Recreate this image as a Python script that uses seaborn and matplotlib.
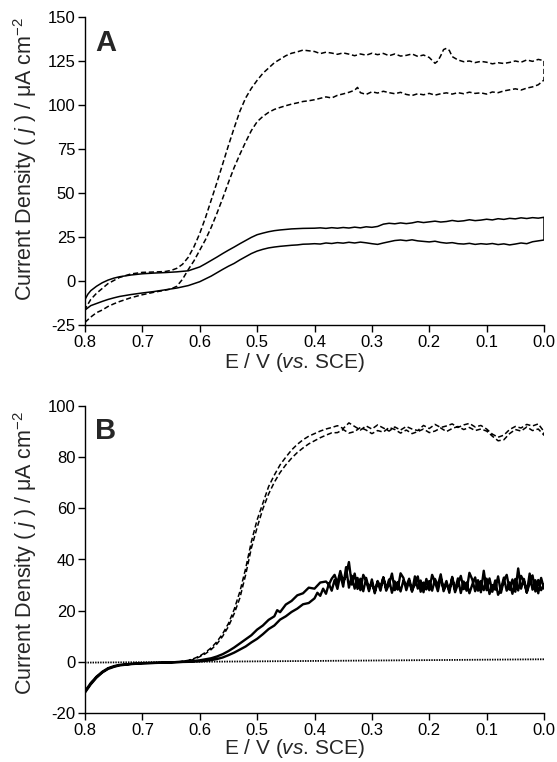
import numpy as np
import pandas as pd
import matplotlib
matplotlib.use("Agg")
import matplotlib.pyplot as plt
import seaborn as sns

# ---------------- Panel A data ----------------
# solid CV: lower branch 0.8 -> 0.0, then upper branch 0.0 -> 0.8
A_solid_low_E = [0.80, 0.79, 0.78, 0.77, 0.76, 0.75, 0.74, 0.72, 0.70, 0.68, 0.66, 0.64, 0.62, 0.60,
                 0.58, 0.56, 0.55, 0.54, 0.53, 0.52, 0.51, 0.50, 0.49, 0.48, 0.47, 0.46, 0.45, 0.44,
                 0.43, 0.42, 0.41,
                 0.40, 0.39, 0.38, 0.37, 0.36, 0.35, 0.34, 0.33, 0.32, 0.31, 0.30, 0.29, 0.28, 0.27,
                 0.26, 0.25, 0.24, 0.23, 0.22, 0.21, 0.20, 0.19, 0.18, 0.17, 0.16, 0.15, 0.14, 0.13,
                 0.12, 0.11, 0.10, 0.09, 0.08, 0.07, 0.06, 0.05, 0.04, 0.03, 0.02, 0.01, 0.00]
A_solid_low_j = [-16.5, -14.0, -12.8, -11.6, -10.5, -9.6, -8.8, -7.7, -6.8, -6.0, -5.0, -4.0, -2.6, -0.4,
                 2.8, 6.6, 8.4, 10.0, 12.0, 13.8, 15.6, 17.0, 18.0, 18.8, 19.3, 19.7, 20.0, 20.3,
                 20.5, 20.9, 21.0,
                 21.2, 21.0, 21.6, 21.3, 21.8, 21.5, 22.0, 21.6, 22.1, 21.7, 21.2, 20.8, 21.6, 22.3,
                 23.0, 23.3, 22.9, 23.4, 22.8, 22.5, 22.2, 22.6, 21.9, 21.5, 21.8, 21.2, 21.0, 21.4,
                 20.8, 21.2, 20.9, 21.3, 20.7, 21.1, 20.5, 21.0, 21.6, 21.2, 22.3, 22.8, 23.3]
A_solid_up_E = [0.00, 0.01, 0.02, 0.03, 0.04, 0.05, 0.06, 0.07, 0.08, 0.09, 0.10, 0.11, 0.12, 0.13,
                0.14, 0.15, 0.16, 0.17, 0.18, 0.19, 0.20, 0.21, 0.22, 0.23, 0.24, 0.25, 0.26, 0.27,
                0.28, 0.29, 0.30, 0.31, 0.32, 0.33, 0.34, 0.35, 0.36, 0.37, 0.38, 0.39, 0.40,
                0.42, 0.44, 0.45, 0.46, 0.47, 0.48, 0.49, 0.50, 0.51, 0.52, 0.53, 0.54, 0.55, 0.56,
                0.57, 0.58, 0.59, 0.60, 0.62, 0.64, 0.66, 0.68, 0.70, 0.72, 0.74, 0.75, 0.76, 0.77,
                0.78, 0.79, 0.795, 0.80]
A_solid_up_j = [36.2, 35.7, 36.0, 35.5, 35.9, 35.3, 35.6, 35.0, 35.4, 34.7, 35.1, 34.6, 34.3, 34.8,
                34.2, 33.9, 34.4, 33.8, 33.5, 34.0, 33.6, 33.2, 33.7, 33.0, 32.6, 33.0, 32.5, 32.8,
                32.3, 31.0, 30.5, 30.8, 30.2, 30.6, 30.1, 30.4, 30.0, 30.3, 29.9, 30.2, 30.0,
                29.9, 29.6, 29.3, 29.0, 28.6, 28.0, 27.2, 26.3, 24.8, 23.0, 21.2, 19.3, 17.5, 15.6,
                13.6, 11.7, 9.8, 8.0, 5.8, 5.2, 4.8, 4.5, 4.1, 3.4, 2.4, 1.6, 0.5, -1.0,
                -3.0, -5.5, -7.5, -10.5]

# dashed CV: lower branch 0.8 -> 0.0, then upper branch 0.0 -> 0.8
A_dash_low_E = [0.80, 0.79, 0.78, 0.77, 0.76, 0.75, 0.74, 0.72, 0.70, 0.68, 0.66, 0.65, 0.64, 0.63,
                0.62, 0.61, 0.60, 0.59, 0.58, 0.57, 0.56, 0.55, 0.54, 0.53, 0.52, 0.51, 0.50, 0.49,
                0.48, 0.47, 0.46, 0.45,
                0.44, 0.43, 0.42, 0.41, 0.40, 0.39, 0.38, 0.37, 0.36, 0.35, 0.34, 0.33, 0.325, 0.32,
                0.31, 0.30, 0.29, 0.28, 0.27, 0.26, 0.25, 0.24, 0.23, 0.22, 0.21, 0.20, 0.19, 0.18,
                0.17, 0.16, 0.15, 0.14, 0.13, 0.12, 0.11, 0.10, 0.09, 0.08, 0.07, 0.06, 0.05, 0.04,
                0.03, 0.02, 0.01, 0.00]
A_dash_low_j = [-23.5, -20.5, -18.0, -16.5, -14.5, -13.0, -11.7, -9.5, -7.8, -6.4, -5.2, -4.5, -3.0, 1.0,
                6.5, 11.5, 17.5, 23.5, 30.5, 38.5, 47.0, 56.0, 64.5, 72.0, 79.0, 85.5, 90.5, 93.5,
                95.8, 97.5, 98.6, 99.6,
                100.5, 101.2, 102.0, 102.4, 103.0, 103.8, 104.6, 104.0, 105.5, 106.3, 107.2, 108.4, 110.0, 107.0,
                106.0, 107.5, 106.8, 107.8, 107.0, 106.4, 107.2, 106.0, 105.4, 106.4, 105.8, 106.6, 105.6, 106.4,
                106.9, 106.2, 107.0, 106.4, 107.3, 106.6, 106.9, 106.2, 107.4, 107.0, 108.0, 108.6, 109.2, 108.5,
                109.6, 110.3, 111.5, 114.2]
A_dash_up_E = [0.00, 0.01, 0.02, 0.03, 0.04, 0.05, 0.06, 0.07, 0.08, 0.09, 0.10, 0.11, 0.12, 0.13,
               0.14, 0.15, 0.16, 0.165, 0.17, 0.175, 0.18, 0.185, 0.19, 0.20, 0.21, 0.22, 0.23, 0.24,
               0.25, 0.26, 0.27, 0.28, 0.29, 0.30, 0.31, 0.32, 0.33, 0.34, 0.35, 0.36, 0.37, 0.38,
               0.39, 0.40, 0.41, 0.42, 0.43, 0.44, 0.45, 0.46, 0.47, 0.48, 0.49, 0.50, 0.51, 0.52,
               0.53, 0.54, 0.55, 0.56, 0.57, 0.58, 0.59, 0.60, 0.61, 0.62, 0.63, 0.64, 0.65, 0.66,
               0.68, 0.70, 0.72, 0.74, 0.76, 0.78, 0.79, 0.80]
A_dash_up_j = [125.2, 125.9, 124.8, 125.6, 124.3, 125.0, 124.2, 123.6, 124.0, 123.4, 124.3, 124.8, 124.1, 125.0,
               124.6, 125.6, 127.5, 131.0, 132.2, 131.5, 128.0, 125.0, 123.7, 127.0, 128.4, 127.6, 129.0, 128.2,
               127.8, 129.0, 128.0, 129.3, 128.6, 129.4, 128.3, 129.0, 128.0, 128.9, 129.6, 128.8, 129.5, 130.0,
               129.2, 130.4, 130.8, 131.2, 130.2, 129.4, 128.0, 126.0, 124.0, 121.0, 118.0, 114.0, 109.5, 104.0,
               96.5, 87.0, 77.0, 66.5, 56.0, 46.0, 36.0, 27.0, 19.5, 13.5, 9.5, 7.2, 6.0, 5.4,
               5.1, 4.9, 4.0, 2.0, -1.5, -7.0, -10.5, -16.0]

# ---------------- Panel B data ----------------
B_dash1_E = [0.80, 0.79, 0.78, 0.77, 0.76, 0.75, 0.74, 0.72, 0.70, 0.66, 0.64, 0.63, 0.62, 0.61,
             0.60, 0.59, 0.58, 0.57, 0.56, 0.55, 0.54, 0.53, 0.52, 0.51, 0.50, 0.49, 0.48, 0.47,
             0.46, 0.45, 0.44, 0.43, 0.42, 0.41, 0.40, 0.39, 0.38, 0.37,
             0.36, 0.35, 0.34, 0.33, 0.32, 0.31, 0.30, 0.29, 0.28, 0.27, 0.26, 0.25, 0.24, 0.23,
             0.22, 0.21, 0.20, 0.19, 0.18, 0.17, 0.16, 0.15, 0.14, 0.13, 0.12, 0.11, 0.10, 0.09,
             0.08, 0.07, 0.06, 0.05, 0.04, 0.03, 0.02, 0.01, 0.00]
B_dash1_j = [-11.5, -8.3, -5.8, -3.9, -2.5, -1.7, -1.2, -0.8, -0.5, -0.3, -0.1, 0.2, 0.6, 1.3,
             2.3, 3.7, 5.5, 7.9, 11.0, 15.0, 20.5, 27.5, 36.5, 47.0, 55.5, 62.0, 68.5, 73.0,
             77.0, 80.0, 82.8, 85.0, 86.8, 88.2, 89.2, 90.2, 91.0, 91.6,
             92.3, 91.2, 93.4, 92.0, 90.6, 92.2, 91.0, 92.6, 91.4, 90.2, 91.8, 90.6, 92.0, 91.0,
             90.4, 92.4, 91.2, 92.8, 91.6, 92.2, 93.0, 91.6, 92.6, 93.2, 91.8, 92.4, 91.0, 89.0,
             87.8, 88.6, 90.8, 92.0, 91.4, 92.8, 92.2, 93.0, 90.0]
B_dash2_E = [0.00, 0.01, 0.02, 0.03, 0.04, 0.05, 0.06, 0.07, 0.08, 0.09, 0.10, 0.11, 0.12, 0.13,
             0.14, 0.15, 0.16, 0.17, 0.18, 0.19, 0.20, 0.21, 0.22, 0.23, 0.24, 0.25, 0.26, 0.27,
             0.28, 0.29, 0.30, 0.31, 0.32, 0.33, 0.34, 0.35, 0.36, 0.37, 0.38, 0.39, 0.40, 0.41,
             0.42, 0.43, 0.44, 0.45, 0.46, 0.47, 0.48, 0.49, 0.50, 0.51, 0.52, 0.53, 0.54, 0.55,
             0.56, 0.57, 0.58, 0.59, 0.60, 0.61, 0.62, 0.64, 0.66, 0.70, 0.72, 0.74, 0.75, 0.76,
             0.77, 0.78, 0.79, 0.80]
B_dash2_j = [88.6, 91.0, 90.4, 91.8, 90.2, 90.8, 89.2, 86.8, 86.4, 88.2, 90.2, 91.0, 90.4, 91.6,
             90.8, 92.0, 91.2, 90.0, 91.4, 90.2, 89.6, 91.0, 90.0, 89.2, 90.6, 89.4, 90.8, 91.6,
             89.8, 90.4, 89.2, 90.6, 91.6, 90.0, 89.4, 90.8, 89.6, 89.5, 88.6, 87.6, 86.4, 85.2,
             83.6, 81.8, 79.6, 77.0, 74.0, 70.2, 65.6, 59.8, 52.5, 44.5, 34.0, 25.0, 18.8, 13.8,
             10.0, 7.0, 4.8, 3.2, 2.0, 1.0, 0.4, -0.1, -0.3, -0.6, -0.9, -1.4, -2.0, -2.8,
             -4.2, -6.2, -8.8, -12.0]

B_solid1_E = [0.80, 0.79, 0.78, 0.77, 0.76, 0.75, 0.74, 0.72, 0.70, 0.66, 0.64, 0.62, 0.60, 0.58,
              0.57, 0.56, 0.55, 0.54, 0.53, 0.52, 0.51, 0.50, 0.49, 0.48, 0.47, 0.465, 0.46, 0.45,
              0.44, 0.43, 0.42, 0.41, 0.40, 0.39, 0.38, 0.375,
              0.370, 0.365, 0.360, 0.355, 0.350, 0.345, 0.340, 0.335, 0.330, 0.325, 0.320, 0.315,
              0.310, 0.305, 0.300, 0.295, 0.290, 0.285, 0.280, 0.275, 0.270, 0.265, 0.260, 0.255,
              0.250, 0.245, 0.240, 0.235, 0.230, 0.225, 0.220, 0.215, 0.210, 0.205, 0.200, 0.195,
              0.190, 0.185, 0.180, 0.175, 0.170, 0.165, 0.160, 0.155, 0.150, 0.145, 0.140, 0.135,
              0.130, 0.125, 0.120, 0.115, 0.110, 0.105, 0.100, 0.095, 0.090, 0.085, 0.080, 0.075,
              0.070, 0.065, 0.060, 0.055, 0.050, 0.045, 0.040, 0.035, 0.030, 0.025, 0.020, 0.015,
              0.010, 0.005, 0.000]
B_solid1_j = [-11.5, -8.3, -5.8, -3.9, -2.5, -1.7, -1.2, -0.8, -0.5, -0.3, -0.1, 0.1, 0.6, 1.4,
              2.1, 3.0, 4.2, 5.6, 7.2, 8.8, 10.4, 12.6, 14.2, 16.4, 17.8, 20.2, 19.4, 22.4,
              23.8, 26.0, 26.8, 29.0, 28.6, 31.0, 31.4, 30.2,
              32.5, 34.0, 30.8, 35.5, 31.2, 33.8, 39.0, 30.2, 34.5, 28.5, 32.5, 27.6,
              32.8, 28.5, 31.0, 27.4, 31.6, 29.2, 33.0, 27.8, 30.4, 34.5, 28.0, 31.2,
              27.5, 31.8, 29.6, 32.5, 27.9, 30.2, 33.4, 27.4, 31.0, 28.3, 31.6, 27.8,
              32.4, 29.8, 34.2, 27.6, 30.5, 28.1, 32.8, 27.2, 30.4, 33.6, 28.4, 31.0,
              26.8, 30.2, 33.0, 27.8, 31.6, 28.0, 32.5, 26.5, 30.0, 28.2, 33.4, 27.0,
              31.8, 34.0, 28.2, 32.2, 27.4, 36.5, 28.6, 32.4, 27.2, 30.6, 33.8, 27.5,
              32.0, 28.0, 30.2]
B_solid2_E = [0.000, 0.005, 0.010, 0.015, 0.020, 0.025, 0.030, 0.035, 0.040, 0.045, 0.050, 0.055,
              0.060, 0.065, 0.070, 0.075, 0.080, 0.085, 0.090, 0.095, 0.100, 0.105, 0.110, 0.115,
              0.120, 0.125, 0.130, 0.135, 0.140, 0.145, 0.150, 0.155, 0.160, 0.165, 0.170, 0.175,
              0.180, 0.185, 0.190, 0.195, 0.200, 0.205, 0.210, 0.215, 0.220, 0.225, 0.230, 0.235,
              0.240, 0.245, 0.250, 0.255, 0.260, 0.265, 0.270, 0.275, 0.280, 0.285, 0.290, 0.295,
              0.300, 0.305, 0.310, 0.315, 0.320, 0.325, 0.330, 0.335, 0.340, 0.345, 0.350, 0.355,
              0.360, 0.365, 0.370, 0.375, 0.380, 0.385, 0.390, 0.395, 0.400,
              0.41, 0.42, 0.43, 0.44, 0.45, 0.46, 0.47, 0.48, 0.49, 0.50, 0.51, 0.52, 0.53, 0.54,
              0.55, 0.56, 0.57, 0.58, 0.59, 0.60, 0.62, 0.64, 0.66, 0.70, 0.72, 0.74, 0.75, 0.76,
              0.77, 0.78, 0.79, 0.80]
B_solid2_j = [28.6, 32.8, 26.8, 31.9, 28.2, 34.5, 27.0, 31.5, 33.6, 27.9, 32.4, 26.6,
              31.0, 27.8, 32.9, 28.4, 26.2, 31.8, 27.4, 32.6, 28.0, 35.6, 27.2, 31.9,
              27.6, 32.2, 34.8, 27.8, 31.4, 26.9, 32.6, 28.2, 33.2, 27.0, 31.6, 28.4,
              32.8, 27.6, 31.2, 34.0, 28.0, 32.4, 27.2, 31.8, 28.6, 33.4, 27.4, 31.6,
              28.0, 32.8, 34.6, 28.2, 31.4, 27.0, 32.2, 28.6, 33.0, 27.8, 31.2, 26.8,
              32.2, 27.6, 31.8, 34.0, 28.0, 32.8, 28.6, 33.6, 29.0, 37.0, 29.4, 34.2,
              28.5, 32.0, 27.8, 30.5, 26.6, 28.6, 25.8, 27.0, 24.8,
              23.0, 22.5, 20.8, 19.5, 17.8, 16.5, 14.2, 12.8, 10.8, 9.0, 7.6, 6.0, 4.8, 3.6,
              2.6, 1.7, 1.1, 0.7, 0.4, 0.2, 0.0, -0.1, -0.3, -0.6, -0.9, -1.4, -2.0, -2.8,
              -4.2, -6.2, -8.8, -12.0]

B_base_E = [0.80, 0.00]
B_base_j = [-0.3, 1.0]

A_yticks = [-25, 0, 25, 50, 75, 100, 125, 150]
B_yticks = [-20, 0, 20, 40, 60, 80, 100]
x_ticks = [0.8, 0.7, 0.6, 0.5, 0.4, 0.3, 0.2, 0.1, 0.0]

# ---------------- style ----------------
sns.set_style("ticks")
plt.rcParams["font.family"] = ["Liberation Sans", "DejaVu Sans"]
plt.rcParams["mathtext.fontset"] = "custom"
plt.rcParams["mathtext.rm"] = "Liberation Sans"
plt.rcParams["mathtext.it"] = "Liberation Sans:italic"
plt.rcParams["axes.linewidth"] = 1.0
plt.rcParams["axes.edgecolor"] = "black"

fig = plt.figure(figsize=(5.57, 7.62), dpi=100)
W, H = 557.0, 762.0
axA = fig.add_axes([85 / W, 1 - 325 / H, 459 / W, 308 / H])
axB = fig.add_axes([85 / W, 1 - 713 / H, 459 / W, 307 / H])

dash_style = (0, (3.4, 1.8))


def trace(ax, E, j, ls="-", lw=1.0):
    df = pd.DataFrame({"E": E, "j": j})
    sns.lineplot(data=df, x="E", y="j", sort=False, estimator=None, color="black",
                 lw=lw, linestyle=ls, ax=ax)


# Panel A
trace(axA, A_solid_low_E + A_solid_up_E, A_solid_low_j + A_solid_up_j, "-", 1.1)
trace(axA, A_dash_low_E + A_dash_up_E, A_dash_low_j + A_dash_up_j, dash_style, 1.1)

# Panel B
trace(axB, B_base_E, B_base_j, (0, (0.8, 0.6)), 1.3)
trace(axB, B_dash1_E + B_dash2_E, B_dash1_j + B_dash2_j, dash_style, 1.1)
trace(axB, B_solid1_E + B_solid2_E, B_solid1_j + B_solid2_j, "-", 1.7)

ylabel = "Current Density ( $\\mathit{j}$ ) / μA cm$^{-2}$"
xlabel = "E / V ($\\mathit{vs}$. SCE)"

for ax, yt, lim, lab, ly, xly, yly in [(axA, A_yticks, (-25, 150), "A", 0.915, -0.085, 0.54),
                                       (axB, B_yticks, (-20, 100), "B", 0.92, -0.078, 0.52)]:
    ax.set_xlim(0.8, 0.0)
    ax.set_ylim(*lim)
    ax.set_xticks(x_ticks)
    ax.set_xticklabels([f"{v:.1f}" for v in x_ticks])
    ax.set_yticks(yt)
    ax.set_yticklabels([str(v) for v in yt])
    sns.despine(ax=ax)
    ax.tick_params(axis="both", direction="out", length=5, width=1.0, labelsize=12,
                   color="black", labelcolor="black", pad=2)
    ax.set_ylabel(ylabel, fontsize=15.5)
    ax.set_xlabel(xlabel, fontsize=15)
    ax.yaxis.set_label_coords(-0.100, yly)
    ax.xaxis.set_label_coords(0.456, xly)
    ax.text(0.022, ly, lab, transform=ax.transAxes, fontsize=21, fontweight="bold",
            ha="left", va="center")
    ax.grid(False)

fig.savefig("out.png", dpi=100)
